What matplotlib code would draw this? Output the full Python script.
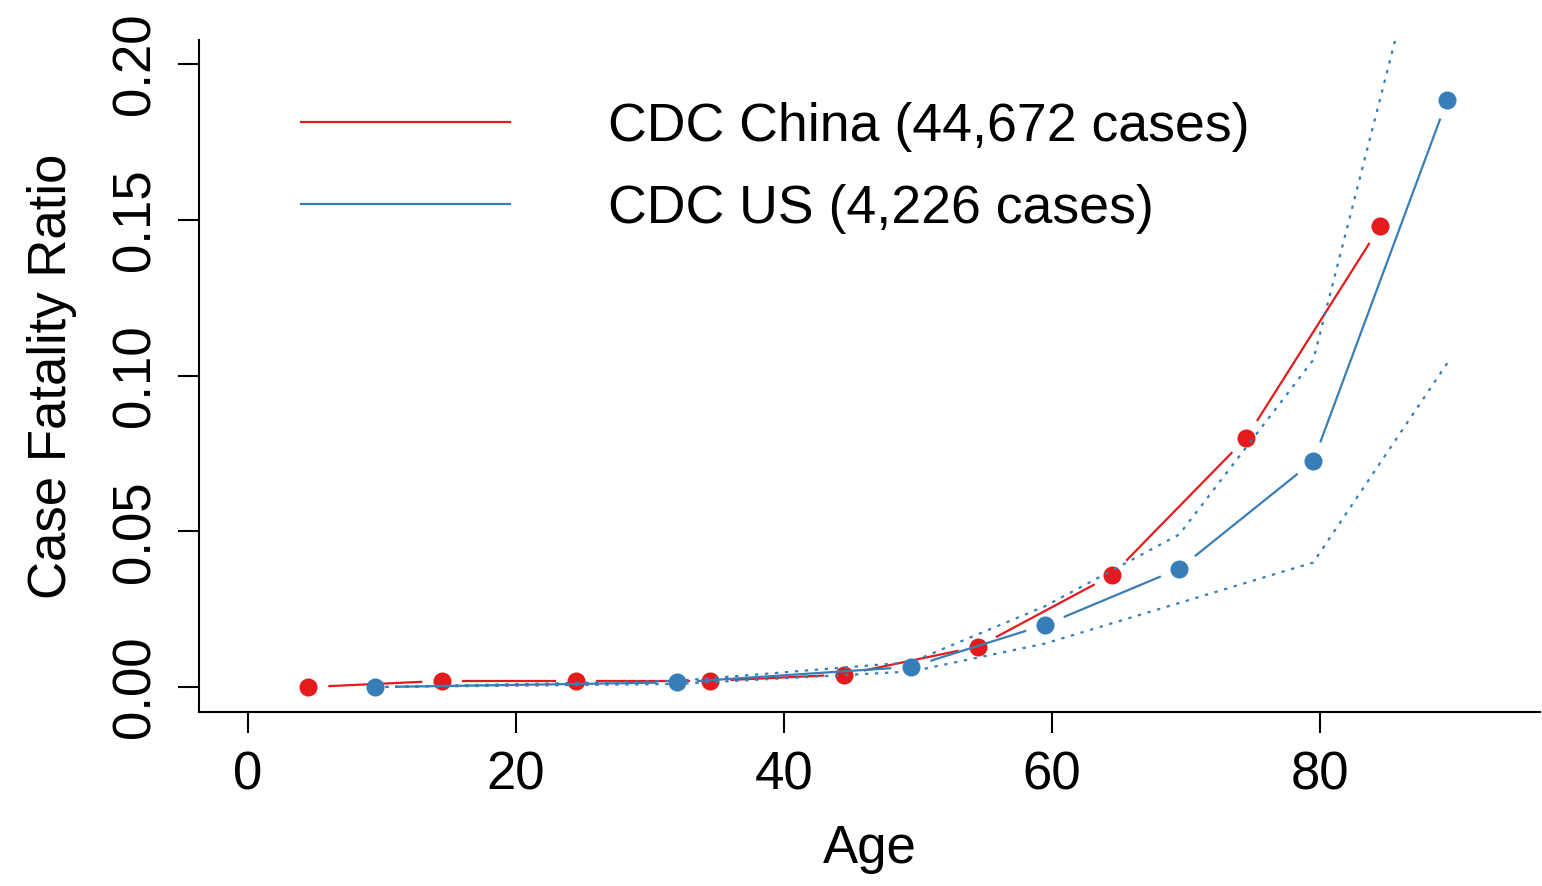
import numpy as np
import matplotlib
matplotlib.use('Agg')
import matplotlib.pyplot as plt
from matplotlib.collections import LineCollection
from matplotlib.lines import Line2D

plt.rcParams['font.family'] = ['Liberation Sans', 'DejaVu Sans']

# CDC China, age group midpoints and CFR
china_age = [4.5, 14.5, 24.5, 34.5, 44.5, 54.5, 64.5, 74.5, 84.5]
china_cfr = [0.0, 0.002, 0.002, 0.002, 0.004, 0.013, 0.036, 0.080, 0.148]

# CDC US, midpoints with lower / upper bounds
us_age = [9.5, 32.0, 49.5, 59.5, 69.5, 79.5, 89.5]
us_cfr = [0.0, 0.0015, 0.0065, 0.020, 0.038, 0.0725, 0.1885]
us_low = [0.0, 0.001, 0.005, 0.014, 0.027, 0.040, 0.104]
us_high = [0.0, 0.002, 0.008, 0.026, 0.049, 0.105, 0.273]

labels = ['CDC China (44,672 cases)', 'CDC US (4,226 cases)']
RED = '#E41A1C'
BLUE = '#377EB8'
FS = 38


def gapped(ax, x, y, color, gap=20, lw=1.6):
    # R style type="b": segments stop short of the points
    pts = ax.transData.transform(np.column_stack([x, y]))
    inv = ax.transData.inverted()
    segs = []
    for p0, p1 in zip(pts[:-1], pts[1:]):
        d = p1 - p0
        L = np.hypot(*d)
        if L <= 2 * gap:
            continue
        u = d / L
        a = inv.transform(p0 + u * gap)
        b = inv.transform(p1 - u * gap)
        segs.append([a, b])
    ax.add_collection(LineCollection(segs, colors=color, linewidths=lw))
    ax.plot(x, y, 'o', color=color, markersize=13, markeredgewidth=0)


fig = plt.figure(figsize=(15.42, 8.86), dpi=100)
ax = fig.add_axes([199 / 1542, 1 - 712 / 886, 1341 / 1542, 672 / 886])
ax.set_xlim(-3.657, 96.42)
ax.set_ylim(-0.008, 0.2077)

gapped(ax, china_age, china_cfr, RED)
gapped(ax, us_age, us_cfr, BLUE)
ax.plot(us_age, us_low, color=BLUE, lw=1.6, linestyle=(0, (1.5, 3)))
ax.plot(us_age, us_high, color=BLUE, lw=1.6, linestyle=(0, (1.5, 3)))

ax.spines['top'].set_visible(False)
ax.spines['right'].set_visible(False)
for s in ['left', 'bottom']:
    ax.spines[s].set_linewidth(1.5)
ax.set_xticks([0, 20, 40, 60, 80])
ax.set_yticks([0.0, 0.05, 0.10, 0.15, 0.20])
ax.set_yticklabels(['0.00', '0.05', '0.10', '0.15', '0.20'], rotation=90, va='center')
ax.tick_params(length=15, width=1.5, labelsize=FS, pad=13)
ax.tick_params(axis='y', pad=13)
ax.set_xlabel('Age', fontsize=FS, labelpad=17)
ax.set_ylabel('Case Fatality Ratio', fontsize=FS, labelpad=24)

handles = [Line2D([], [], color=RED, lw=1.6), Line2D([], [], color=BLUE, lw=1.6)]
ax.legend(handles, labels, loc='upper left', bbox_to_anchor=(0.04, 0.98),
          frameon=False, prop={'size': 38.6}, handlelength=3.9, handletextpad=1.83,
          labelspacing=0.6)

fig.savefig('out.png', dpi=100)
